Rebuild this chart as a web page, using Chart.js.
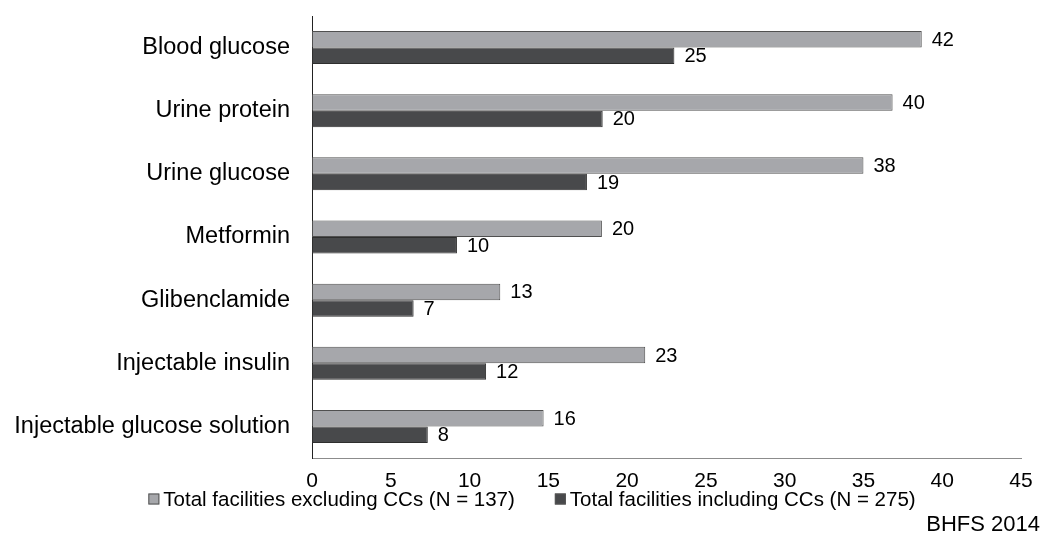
<!DOCTYPE html>
<html>
<head>
<meta charset="utf-8">
<script src="https://cdn.jsdelivr.net/npm/chart.js@4/dist/chart.umd.min.js"></script>
<style>
  html, body { margin: 0; padding: 0; background: #ffffff; }
  #wrap { width: 1046px; height: 535px; position: relative; }
</style>
</head>
<body>
<div id="wrap"><canvas id="c" width="1046" height="535"></canvas></div>
<script>
// ---- data ----
const categories = [
  "Blood glucose",
  "Urine protein",
  "Urine glucose",
  "Metformin",
  "Glibenclamide",
  "Injectable insulin",
  "Injectable glucose solution"
];
const seriesNames = [
  "Total facilities excluding CCs (N = 137)",
  "Total facilities including CCs (N = 275)"
];
// bar lengths as drawn against the axis
const excludingValues = [38.7, 36.85, 35.0, 18.4, 11.95, 21.15, 14.7];
const includingValues = [23.0, 18.45, 17.45, 9.2, 6.45, 11.05, 7.35];
// numbers printed next to the bars
const excludingLabels = ["42", "40", "38", "20", "13", "23", "16"];
const includingLabels = ["25", "20", "19", "10", "7", "12", "8"];
const xTicks = [0, 5, 10, 15, 20, 25, 30, 35, 40, 45];
const sourceNote = "BHFS 2014";

const FONT = "'Liberation Sans', Arial, Helvetica, sans-serif";
const colGray = "#a6a7ab";
const colDark = "#48494b";

const valueLabelPlugin = {
  id: "valueLabels",
  afterDatasetsDraw(chart) {
    const ctx = chart.ctx;
    const lbls = [excludingLabels, includingLabels];
    ctx.save();
    ctx.font = "20px " + FONT;
    ctx.fillStyle = "#000";
    ctx.textAlign = "left";
    ctx.textBaseline = "middle";
    chart.data.datasets.forEach((ds, di) => {
      const meta = chart.getDatasetMeta(di);
      meta.data.forEach((bar, i) => {
        ctx.fillText(lbls[di][i], bar.x + 10, bar.y + 1);
      });
    });
    ctx.restore();
  }
};

const legendPlugin = {
  id: "customLegend",
  afterDraw(chart) {
    const ctx = chart.ctx;
    ctx.save();
    ctx.font = "20.5px " + FONT;
    const sq = 11, gap = 4, itemGap = 40;
    const w1 = ctx.measureText(seriesNames[0]).width;
    const w2 = ctx.measureText(seriesNames[1]).width;
    const total = sq + gap + w1 + itemGap + sq + gap + w2;
    let x = 532 - total / 2;
    const cy = 499;
    const items = [[seriesNames[0], colGray, w1], [seriesNames[1], colDark, w2]];
    items.forEach(([name, col, w]) => {
      ctx.fillStyle = col;
      ctx.fillRect(x, cy - sq / 2, sq, sq);
      ctx.strokeStyle = "#555";
      ctx.lineWidth = 1;
      ctx.strokeRect(x + 0.5, cy - sq / 2 + 0.5, sq - 1, sq - 1);
      ctx.fillStyle = "#000";
      ctx.textAlign = "left";
      ctx.textBaseline = "middle";
      ctx.fillText(name, x + sq + gap, cy + 1);
      x += sq + gap + w + itemGap;
    });
    ctx.font = "22px " + FONT;
    ctx.textAlign = "right";
    ctx.textBaseline = "middle";
    ctx.fillText(sourceNote, 1040, 525);
    ctx.restore();
  }
};

new Chart(document.getElementById("c"), {
  type: "bar",
  data: {
    labels: categories,
    datasets: [
      {
        label: seriesNames[0],
        data: excludingValues,
        backgroundColor: colGray,
        borderColor: "#505050",
        borderWidth: 1,
        borderSkipped: false,
        categoryPercentage: 0.523,
        barPercentage: 1.0
      },
      {
        label: seriesNames[1],
        data: includingValues,
        backgroundColor: colDark,
        borderColor: "#2e2e2e",
        borderWidth: 1,
        borderSkipped: false,
        categoryPercentage: 0.523,
        barPercentage: 1.0
      }
    ]
  },
  options: {
    indexAxis: "y",
    responsive: false,
    animation: false,
    layout: { padding: { top: 16, right: 25, bottom: 0, left: 0 } },
    plugins: { legend: { display: false }, tooltip: { enabled: false } },
    scales: {
      x: {
        min: 0,
        max: 45,
        afterBuildTicks(scale) { scale.ticks = xTicks.map(v => ({ value: v })); },
        afterFit(scale) { scale.height = 77; scale.paddingLeft = 0; scale.paddingRight = 0; },
        grid: { display: false, drawTicks: false },
        border: { display: true, color: "#8c8c8c", width: 1 },
        ticks: {
          font: { family: FONT, size: 21 },
          color: "#000",
          padding: 11,
          maxRotation: 0
        }
      },
      y: {
        afterFit(scale) { scale.width = 312; scale.paddingTop = 0; scale.paddingBottom = 0; },
        grid: { display: false, drawTicks: false },
        border: { display: true, color: "#222", width: 1 },
        ticks: {
          font: { family: FONT, size: 23.5 },
          color: "#000",
          padding: 22
        }
      }
    }
  },
  plugins: [valueLabelPlugin, legendPlugin]
});
</script>
</body>
</html>
